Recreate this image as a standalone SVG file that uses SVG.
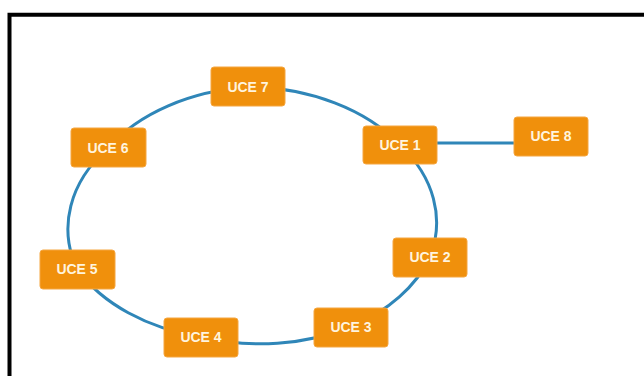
<svg xmlns="http://www.w3.org/2000/svg" width="644" height="376" viewBox="0 0 644 376">
<style>
.frame{fill:none;stroke:#000;stroke-width:4}
.link{fill:none;stroke:#2F86B8;stroke-width:3}
.box{fill:#F0900C;stroke:#F5A640;stroke-width:1}
.lbl{font-family:"Liberation Sans",Arial,sans-serif;font-weight:bold;font-size:14px;fill:#FFF4DE;text-anchor:middle;dominant-baseline:central}
</style>
<rect x="0" y="0" width="644" height="376" fill="#fff"/>
<path class="frame" d="M9.5,376 V14.7 H644"/>
<g id="connectors">
<path class="link" d="M249,87 A185 130 0 0 1 400,145"/>
<path class="link" d="M400,145 A185 130 0 0 1 430,257"/>
<path class="link" d="M430,257 A185 130 0 0 1 351,327"/>
<path class="link" d="M351,327 A185 130 0 0 1 201,337"/>
<path class="link" d="M201,337 A185 130 0 0 1 77,269"/>
<path class="link" d="M77,269 A185 130 0 0 1 108,148"/>
<path class="link" d="M108,148 A185 130 0 0 1 249,87"/>
<path class="link" d="M437,143 H514"/>
</g>
<g id="uce7"><rect class="box" x="211" y="67" width="74" height="39" rx="3"/><text class="lbl" x="248" y="87">UCE 7</text></g>
<g id="uce6"><rect class="box" x="71" y="128" width="75" height="39" rx="3"/><text class="lbl" x="108" y="148">UCE 6</text></g>
<g id="uce1"><rect class="box" x="363" y="126" width="74" height="38" rx="3"/><text class="lbl" x="400" y="145">UCE 1</text></g>
<g id="uce8"><rect class="box" x="514" y="117" width="74" height="39" rx="3"/><text class="lbl" x="551" y="136">UCE 8</text></g>
<g id="uce2"><rect class="box" x="393" y="238" width="74" height="39" rx="3"/><text class="lbl" x="430" y="257">UCE 2</text></g>
<g id="uce3"><rect class="box" x="314" y="308" width="74" height="39" rx="3"/><text class="lbl" x="351" y="327">UCE 3</text></g>
<g id="uce4"><rect class="box" x="164" y="318" width="74" height="39" rx="3"/><text class="lbl" x="201" y="337">UCE 4</text></g>
<g id="uce5"><rect class="box" x="40" y="250" width="75" height="39" rx="3"/><text class="lbl" x="77" y="269">UCE 5</text></g>
</svg>
